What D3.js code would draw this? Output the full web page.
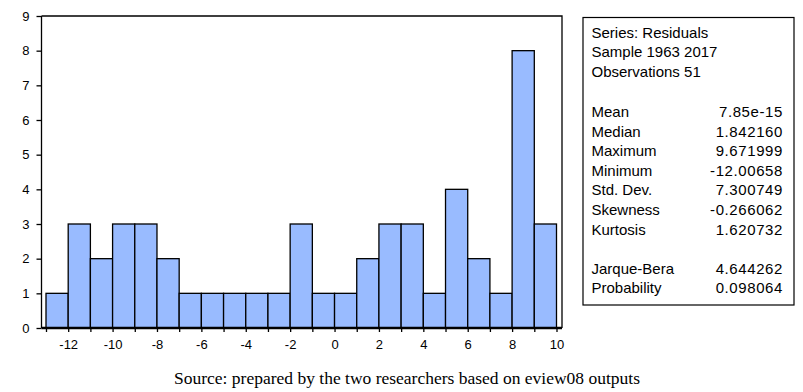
<!DOCTYPE html>
<html>
<head>
<meta charset="utf-8">
<script src="https://cdn.jsdelivr.net/npm/d3@7"></script>
<style>
  body { margin: 0; background: #fff; }
  svg { display: block; }
</style>
</head>
<body>
<div id="main"></div>
<script>
const ctx = {
    w: 803,
    h: 392,
};

// histogram of residuals, bins of width 1 starting at -13
const binStarts = d3.range(-13, 10);
const counts = [1, 3, 2, 3, 3, 2, 1, 1, 1, 1, 1, 3, 1, 1, 2, 3, 3, 1, 4, 2, 1, 8, 3];
const yTicks = [0, 1, 2, 3, 4, 5, 6, 7, 8, 9];
const xLabelTicks = [-12, -10, -8, -6, -4, -2, 0, 2, 4, 6, 8, 10];

const headerLines = ["Series: Residuals", "Sample 1963 2017", "Observations 51"];
const statNames = ["Mean", "Median", "Maximum", "Minimum", "Std. Dev.", "Skewness", "Kurtosis"];
const statValues = ["7.85e-15", "1.842160", "9.671999", "-12.00658", "7.300749", "-0.266062", "1.620732"];
const testNames = ["Jarque-Bera", "Probability"];
const testValues = ["4.644262", "0.098064"];
const caption = "Source: prepared by the two researchers based on eview08 outputs";

function createHistogram(svg) {
    let x = d3.scaleLinear().domain([-13, 10]).range([46, 556.5]);
    let y = d3.scaleLinear().domain([0, 9]).range([328, 16]);
    let frameLeft = 41.5, frameRight = 562;

    // bars
    svg.append("g").selectAll("rect")
        .data(binStarts)
        .enter().append("rect")
        .attr("x", (d) => x(d))
        .attr("y", (d, i) => y(counts[i]))
        .attr("width", (d) => x(d + 1) - x(d))
        .attr("height", (d, i) => y(0) - y(counts[i]))
        .style("fill", "#99BBFF")
        .style("stroke", "#000")
        .style("stroke-width", 1.3);

    // frame: top and right
    svg.append("path")
        .attr("d", "M" + frameLeft + "," + y(9) + "H" + frameRight + "V" + y(0))
        .style("fill", "none")
        .style("stroke", "#000")
        .style("stroke-width", 1.3);

    // y axis
    let yAxis = svg.append("g")
        .attr("transform", "translate(" + frameLeft + ",0)")
        .call(d3.axisLeft(y).tickValues(yTicks).tickSize(5).tickPadding(7).tickFormat(d3.format("d")));
    yAxis.select(".domain").attr("d", "M0," + y(9) + "V" + y(0)).style("stroke-width", 1.3);
    yAxis.selectAll(".tick line").style("stroke-width", 1.3);
    yAxis.selectAll("text").style("font-family", "Liberation Sans, Arial, sans-serif").style("font-size", "13px").attr("fill", "#000");

    // x axis
    let xAxis = svg.append("g")
        .attr("transform", "translate(0," + y(0) + ")")
        .call(d3.axisBottom(x).tickValues(d3.range(-13, 11)).tickSize(4).tickPadding(8)
            .tickFormat((d) => xLabelTicks.includes(d) ? d : ""));
    xAxis.select(".domain").attr("d", "M" + frameLeft + ",0H" + frameRight).style("stroke-width", 2.5);
    xAxis.selectAll(".tick line").style("stroke-width", 1.3);
    xAxis.selectAll("text").style("font-family", "Liberation Sans, Arial, sans-serif").style("font-size", "13px").attr("fill", "#000");
}

function createStatsBox(svg) {
    let g = svg.append("g").style("font-family", "Liberation Sans, Arial, sans-serif").style("font-size", "15px");
    g.append("rect")
        .attr("x", 583).attr("y", 17.5)
        .attr("width", 211).attr("height", 287.5)
        .style("fill", "none").style("stroke", "#000").style("stroke-width", 1.2);

    let left = 591.5, right = 783, lh = 19.6;
    headerLines.forEach((t, i) => {
        g.append("text").attr("x", left).attr("y", 37.5 + i * lh).text(t);
    });
    statNames.forEach((t, i) => {
        g.append("text").attr("x", left).attr("y", 117 + i * lh).text(t);
        g.append("text").attr("x", right).attr("y", 117 + i * lh).attr("text-anchor", "end")
            .style("letter-spacing", "0.6px").text(statValues[i]);
    });
    testNames.forEach((t, i) => {
        g.append("text").attr("x", left).attr("y", 273.5 + i * lh).text(t);
        g.append("text").attr("x", right).attr("y", 273.5 + i * lh).attr("text-anchor", "end")
            .style("letter-spacing", "0.6px").text(testValues[i]);
    });
}

function createViz() {
    let svg = d3.select("#main").append("svg")
        .attr("width", ctx.w)
        .attr("height", ctx.h);
    createHistogram(svg);
    createStatsBox(svg);
    svg.append("text")
        .attr("x", 407).attr("y", 384)
        .attr("text-anchor", "middle")
        .style("font-family", "Liberation Serif, Times New Roman, serif")
        .style("font-size", "17.5px")
        .text(caption);
}

createViz();
</script>
</body>
</html>
